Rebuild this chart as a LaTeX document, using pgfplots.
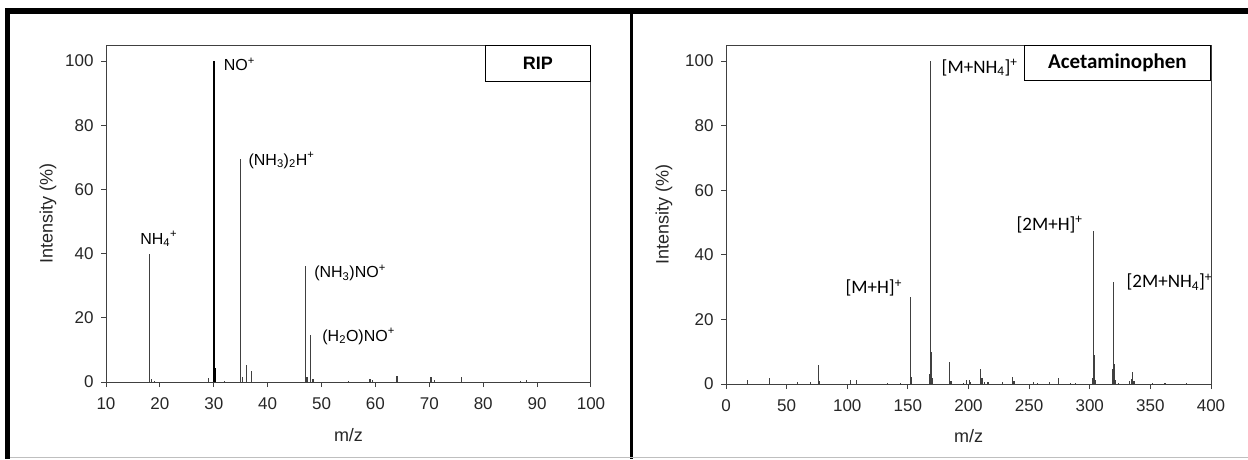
\documentclass[border=0pt]{standalone}
\usepackage{fontspec}
\setmainfont{Liberation Sans}
\newfontfamily\carlito{Carlito}
\usepackage{pgfplots}
\pgfplotsset{compat=1.18}
\pgfplotsset{
  spec/.style={
    scale only axis, anchor=south west,
    ymin=0, ymax=105, ytick={0,20,...,100},
    tick align=outside, tick pos=left, major tick length=5pt,
    axis line style={black!75, line width=1pt},
    every tick/.style={black!75, line width=1pt},
    ticklabel style={font=\fontsize{17}{19}\selectfont, text=black!85},
    xticklabel style={yshift=-7pt},
    yticklabel style={xshift=-4pt},
    /pgf/number format/assume math mode=true,
    xlabel={m/z},
    ylabel={Intensity (\%)},
    label style={font=\fontsize{18}{20}\selectfont, text=black!85},
  },
}
\begin{document}
\begin{tikzpicture}[x=1pt,y=1pt]
\path[use as bounding box] (0,0) rectangle (1248,459);
\fill[black] (5,445) rectangle (1248,451);
\fill[black] (5,0) rectangle (10,451);
\fill[black] (630,0) rectangle (633,451);
\draw[black!25, line width=1pt] (10,1.5) -- (1248,1.5);

\begin{axis}[spec, name=L, at={(106pt,77pt)}, width=485pt, height=337pt,
  xmin=10, xmax=100, xtick={10,20,...,100},
  xlabel style={at={(axis description cs:0.5,-0.157)}, anchor=center},
  ylabel style={at={(axis description cs:-0.1196,0.5)}, anchor=center}]
\addplot[ycomb, black!75, line width=1.2pt] coordinates {
(18,40) (18.4,1.0) (19,0.4) (29,1.2) (32,0.3) (35,69.5) (35.4,1.5) (36,5.3) (37,3.5)
(47,36) (47.3,1.5) (48,14.5) (48.4,1) (55,0.3) (59,1) (59.5,0.5) (64,1.8)
(70.3,1.5) (71,0.5) (76,1.5) (86.9,0.4) (88,0.5)};
\addplot[ycomb, black, line width=1.5pt] coordinates {(30,100) (30.3,4.5)};
\node[anchor=west, font=\fontsize{16}{18}\selectfont] at (axis cs:31.2,99) {NO\textsuperscript{+}};
\node[anchor=west, font=\fontsize{16}{18}\selectfont] at (axis cs:35.8,69) {(NH\textsubscript{3})\textsubscript{2}H\textsuperscript{+}};
\node[anchor=center, font=\fontsize{16}{18}\selectfont] at (axis cs:19.8,44.5) {NH\textsubscript{4}\textsuperscript{+}};
\node[anchor=west, font=\fontsize{16}{18}\selectfont] at (axis cs:48,34) {(NH\textsubscript{3})NO\textsuperscript{+}};
\node[anchor=west, font=\fontsize{16}{18}\selectfont] at (axis cs:49.5,14.2) {(H\textsubscript{2}O)NO\textsuperscript{+}};
\end{axis}
\node[draw=black, fill=white, line width=1.3pt, minimum width=105pt, minimum height=36pt,
  anchor=north east, inner sep=0pt, font=\bfseries\fontsize{18}{20}\selectfont] at (L.north east) {RIP};

\begin{axis}[spec, name=R, at={(726pt,75pt)}, width=485pt, height=339pt,
  xmin=0, xmax=400, xtick={0,50,...,400},
  xlabel style={at={(axis description cs:0.5,-0.155)}, anchor=center},
  ylabel style={at={(axis description cs:-0.128,0.5)}, anchor=center}]
\addplot[ycomb, black!75, line width=1.2pt] coordinates {
(17.5,1.1) (35.8,1.8) (58.8,0.5) (70,0.7) (76.3,6) (77.3,1) (102.7,1.1) (107.4,1.1)
(133.5,0.3) (143.7,0.3) (152,26.9) (153,2.3) (168,3) (168.4,100) (169.3,10) (170.5,2)
(184,1.2) (184.4,6.8) (185.5,1) (196,0.4) (198.6,1.2) (200.6,1.2) (201.5,0.7)
(210.2,4.7) (211.2,2) (213,0.6) (216,0.5) (227.8,0.5) (236.6,2.3) (237.6,0.8)
(253.5,0.5) (257,0.4) (266.5,0.6) (274,1.8) (284.4,0.3) (288,0.3)
(302,2) (303,47.5) (303.6,9) (304.6,1.2) (319,4.7) (319.8,31.5) (320.4,6.2) (321.5,1.2)
(324,0.4) (333,0.8) (334.5,1.5) (335.5,3.6) (336.5,0.8) (351.5,0.3) (362,0.3) (379.6,0.4)};
\node[anchor=west, font=\carlito\fontsize{19}{21}\selectfont] at (axis cs:175,98) {[M+NH\textsubscript{4}]\textsuperscript{+}};
\node[anchor=east, font=\carlito\fontsize{19}{21}\selectfont] at (axis cs:148,29.8) {[M+H]\textsuperscript{+}};
\node[anchor=east, font=\carlito\fontsize{19}{21}\selectfont] at (axis cs:297,49.4) {[2M+H]\textsuperscript{+}};
\node[anchor=west, font=\carlito\fontsize{19}{21}\selectfont] at (axis cs:327.5,31.5) {[2M+NH\textsubscript{4}]\textsuperscript{+}};
\end{axis}
\node[draw=black, fill=white, line width=1.3pt, minimum width=186pt, minimum height=35pt,
  anchor=north east, inner sep=0pt, font=\carlito\bfseries\fontsize{21}{23}\selectfont] at (R.north east) {Acetaminophen};
\end{tikzpicture}
\end{document}
